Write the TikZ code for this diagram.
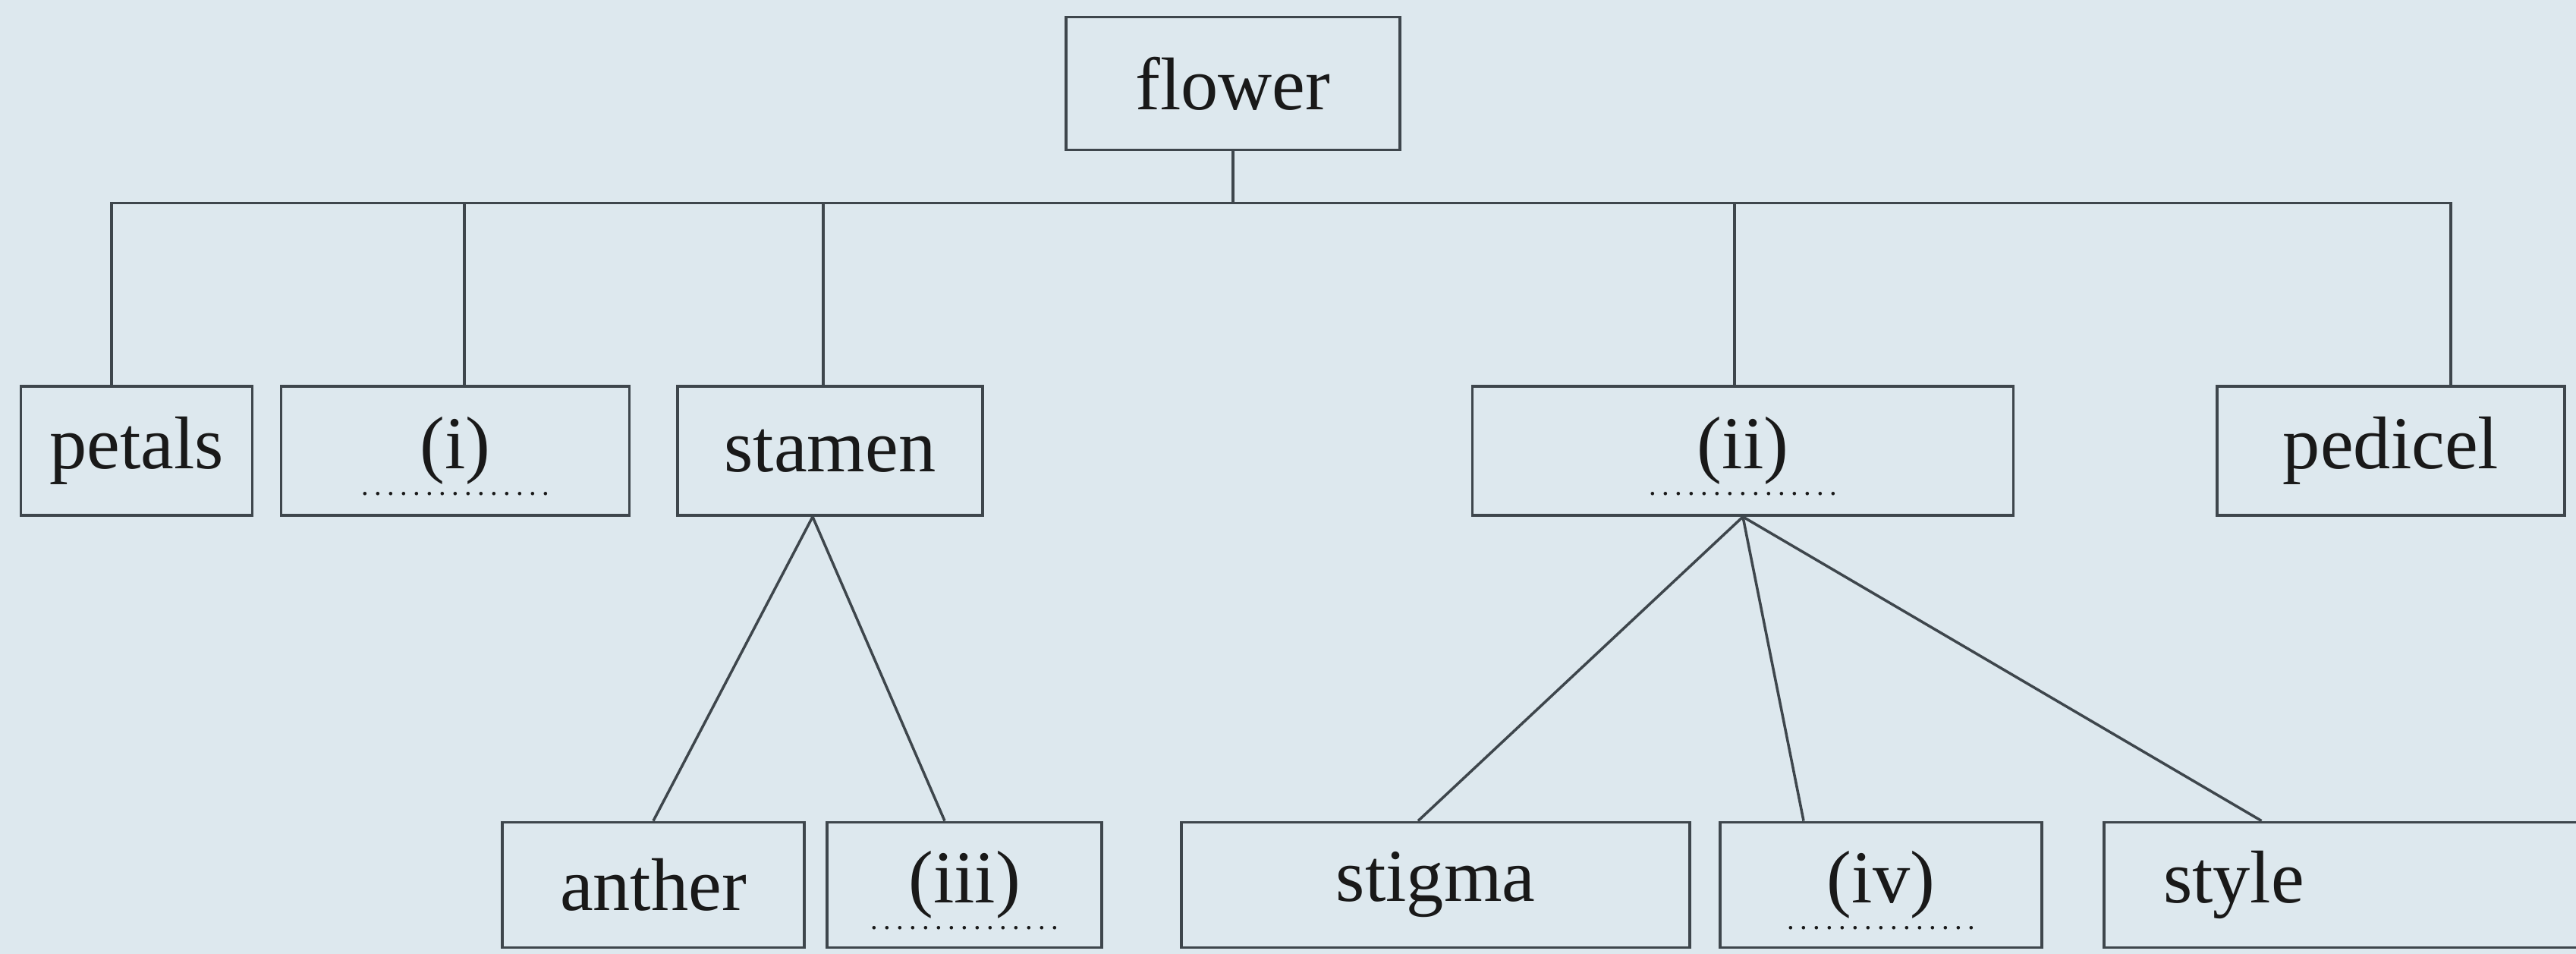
\documentclass[tikz,border=0pt]{standalone}
\usepackage{fontspec}
\setmainfont{Liberation Serif}
\usepackage{tikz}
\usetikzlibrary{positioning}
\definecolor{paper}{RGB}{221,232,238}
\definecolor{ink}{RGB}{62,70,76}
\tikzstyle{part}=[draw=ink,line width=1.1pt,rectangle,minimum height=17mm,inner sep=0pt,text=black!90,font=\fontsize{28}{32}\selectfont]
\tikzstyle{link}=[ink,line width=1pt]
\newsavebox{\lblbox}
\newcommand{\blank}[1]{\sbox{\lblbox}{#1}\makebox[\wd\lblbox]{\makebox[0pt]{\raisebox{-3.5mm}[0pt][0pt]{\makebox[26.7mm]{\fontsize{11}{11}\selectfont\dotfill}}}}\hspace{-\wd\lblbox}\usebox{\lblbox}}

\begin{document}
\begin{tikzpicture}
\fill[paper] (0,0) rectangle (33.95,-12.57);
\clip (0,0) rectangle (33.95,-12.57);
% top
\node [part,minimum width=44mm,minimum height=17.5mm] (flower) at (16.25,-1.10) {flower};
% middle row
\node [part,minimum width=30.5mm] (petals) at (1.80,-5.94) {petals};
\node [part,minimum width=45.9mm] (i) at (6.00,-5.94) {\blank{(i)}};
\node [part,minimum width=40.2mm] (stamen) at (10.94,-5.94) {stamen};
\node [part,minimum width=71.3mm] (ii) at (22.97,-5.94) {\blank{(ii)}};
\node [part,minimum width=45.8mm] (pedicel) at (31.51,-5.94) {pedicel};
% bottom row
\node [part,minimum width=39.8mm,minimum height=16.5mm] (anther) at (8.61,-11.66) {anther};
\node [part,minimum width=36.2mm,minimum height=16.5mm] (iii) at (12.71,-11.66) {\blank{(iii)}};
\node [part,minimum width=67mm,minimum height=16.5mm] (stigma) at (18.92,-11.66) {stigma};
\node [part,minimum width=42.4mm,minimum height=16.5mm] (iv) at (24.79,-11.66) {\blank{(iv)}};
\node [part,minimum width=64.7mm,minimum height=16.5mm,text width=49.1mm,inner xsep=7.8mm,align=left] (sty) at (30.965,-11.66) {style};
% connectors
\coordinate (bus) at ([yshift=-6.8mm]flower.south);
\draw[link] (flower.south) -- (bus);
\draw[link] ([xshift=-3.3mm]petals.north) |- (bus) -| ([xshift=7.9mm]pedicel.north);
\foreach \n/\dx in {i/1.2mm, stamen/-0.9mm, ii/-1.1mm}
  \draw[link] ([xshift=\dx]\n.north) |- (bus);
\draw[link] ([xshift=-2.3mm]stamen.south) -- (anther.north);
\draw[link] ([xshift=-2.3mm]stamen.south) -- ([xshift=-2.6mm]iii.north);
\draw[link] (ii.south) -- ([xshift=-2.3mm]stigma.north);
\draw[link] (ii.south) -- ([xshift=-10.2mm]iv.north);
\draw[link] (ii.south) -- ([xshift=-11.6mm]sty.north);
\end{tikzpicture}
\end{document}
